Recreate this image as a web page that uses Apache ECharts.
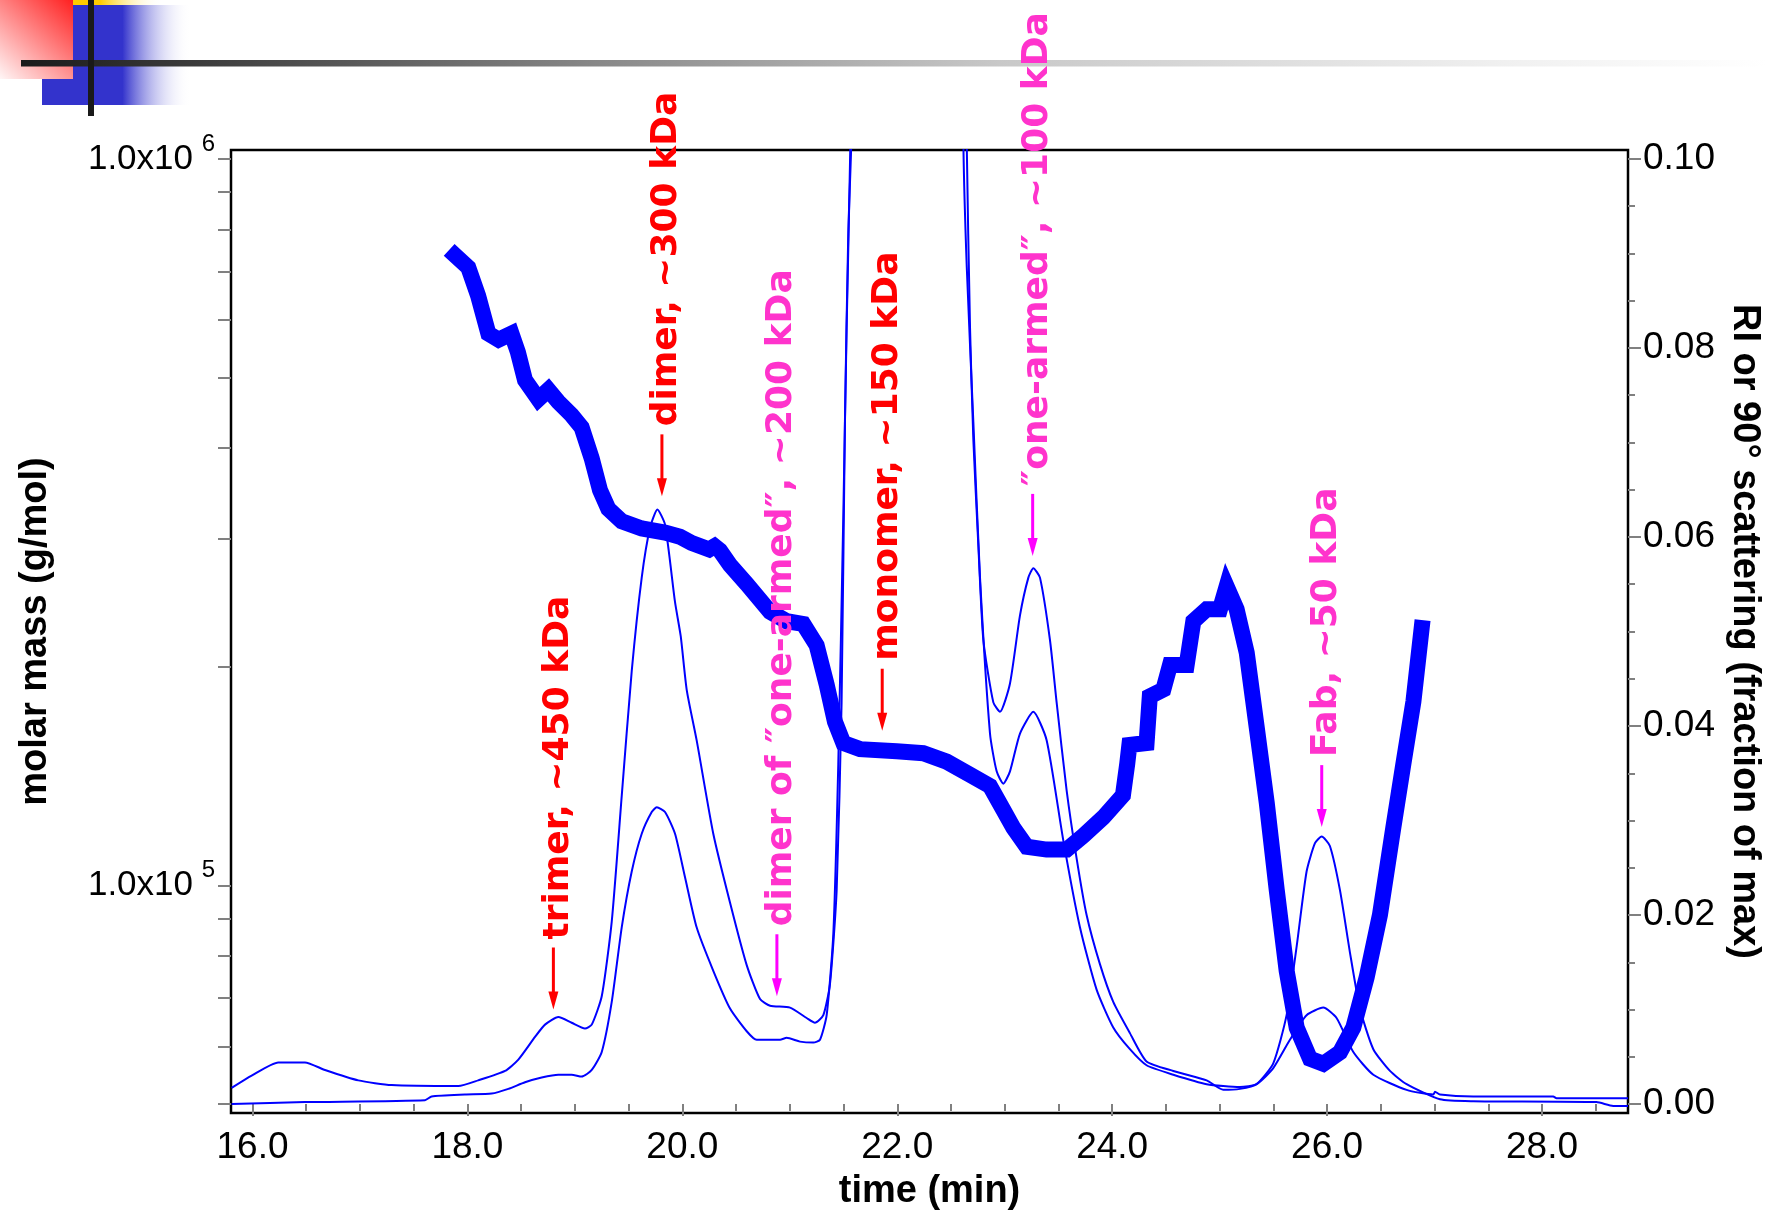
<!DOCTYPE html>
<html><head><meta charset="utf-8">
<script src="https://cdn.jsdelivr.net/npm/echarts@6/dist/echarts.min.js"></script>
<style>html,body{margin:0;padding:0;background:#fff;}#c{width:1767px;height:1215px;}</style>
</head><body><div id="c"></div>
<script>
// ---- molar mass (thick trace, left log axis) ----
const massTime = [17.885,18.008,18.10,18.195,18.29,18.41,18.47,18.536,18.66,18.753,18.846,18.97,19.063,19.157,19.234,19.311,19.436,19.622,19.839,19.978,20.087,20.25,20.30,20.35,20.444,20.599,20.816,20.971,21.126,21.25,21.343,21.42,21.498,21.653,21.995,22.242,22.46,22.677,22.863,22.987,23.08,23.205,23.39,23.577,23.731,23.917,24.10,24.14,24.16,24.32,24.35,24.476,24.538,24.693,24.755,24.88,25.003,25.065,25.158,25.252,25.345,25.438,25.531,25.624,25.717,25.841,25.965,26.12,26.244,26.368,26.492,26.616,26.71,26.803,26.88];
const molarMass = [737000,709000,648000,575000,564000,575000,542000,496000,467000,481000,463000,444000,427000,387000,350000,330000,317000,310000,306000,302000,296000,290000,293000,289000,276000,260000,238000,231000,229000,214000,189000,168000,157000,154000,153000,152000,148000,142000,137000,127000,120000,113000,112000,112000,117000,124000,133000,147000,156000,157000,182000,186000,201000,201000,231000,240000,240000,258000,240000,209000,165000,130000,98600,76200,63700,57700,56800,58900,63700,74700,91100,120000,147000,179000,226000];

// ---- 90 degree light scattering (thin trace, right axis) ----
const lsTime = [15.806,15.992,16.24,16.488,16.675,16.985,17.295,17.915,18.10,18.35,18.474,18.629,18.722,18.846,18.97,19.094,19.157,19.25,19.343,19.436,19.529,19.622,19.70,19.768,19.839,19.932,19.985,20.041,20.133,20.288,20.444,20.599,20.723,20.816,21.002,21.157,21.234,21.312,21.374,21.436,21.482,21.513,21.544,21.575,21.8,22.1,22.45,22.615,22.646,22.708,22.77,22.863,22.925,22.987,23.049,23.142,23.266,23.39,23.545,23.70,23.855,24.01,24.165,24.32,24.569,24.879,25.189,25.344,25.499,25.654,25.809,25.964,26.088,26.244,26.43,26.74,26.988,27.004,27.05,27.36,28.104,28.135,28.8];
const lsSignal = [0.0017,0.0030,0.0044,0.0044,0.0036,0.0025,0.0020,0.0019,0.0025,0.0035,0.0047,0.0071,0.0084,0.0092,0.0086,0.0080,0.0084,0.0114,0.0193,0.0326,0.0458,0.0557,0.0610,0.0629,0.0613,0.0531,0.0495,0.0438,0.0385,0.0286,0.0213,0.0147,0.0111,0.0104,0.0102,0.0091,0.0086,0.0094,0.0127,0.0226,0.0425,0.0722,0.0921,0.1030,0.35,0.45,0.30,0.1020,0.0888,0.0722,0.0557,0.0392,0.0352,0.0339,0.0352,0.0392,0.0415,0.0385,0.0279,0.0187,0.0121,0.0081,0.0058,0.0041,0.0031,0.0021,0.0018,0.0021,0.0038,0.0068,0.0094,0.0102,0.0091,0.0055,0.0031,0.0015,0.0010,0.0013,0.0010,0.0008,0.0008,0.0006,0.0006];

// ---- refractive index (thin trace, right axis) ----
const riTime = [15.806,16.488,17.605,17.667,17.977,18.226,18.381,18.536,18.691,18.846,18.97,19.063,19.157,19.25,19.343,19.436,19.529,19.622,19.715,19.762,19.839,19.932,20.025,20.133,20.288,20.444,20.599,20.692,20.909,20.971,21.095,21.219,21.281,21.343,21.405,21.451,21.498,21.529,21.566,21.8,22.1,22.45,22.646,22.677,22.708,22.755,22.801,22.894,22.956,23.049,23.142,23.22,23.266,23.328,23.421,23.483,23.576,23.669,23.762,23.886,24.01,24.165,24.32,24.569,24.879,25.034,25.189,25.344,25.499,25.623,25.717,25.809,25.887,25.949,26.026,26.12,26.213,26.306,26.43,26.585,26.74,27.05,27.36,28.507,28.662,28.8];
const riSignal = [0.0000,0.0002,0.0004,0.0008,0.0010,0.0011,0.0016,0.0023,0.0028,0.0031,0.0031,0.0029,0.0036,0.0055,0.0108,0.0187,0.0246,0.0286,0.0309,0.0314,0.0309,0.0286,0.0240,0.0187,0.0141,0.0101,0.0077,0.0068,0.0068,0.0070,0.0066,0.0065,0.0068,0.0094,0.0180,0.0359,0.0623,0.0822,0.1030,0.30,0.40,0.28,0.1020,0.0822,0.0703,0.0590,0.0491,0.0425,0.0415,0.0445,0.0517,0.0557,0.0567,0.0557,0.0491,0.0425,0.0332,0.0260,0.0200,0.0148,0.0108,0.0075,0.0045,0.0035,0.0025,0.0015,0.0016,0.0021,0.0043,0.0094,0.0167,0.0246,0.0276,0.0283,0.0273,0.0226,0.0160,0.0101,0.0058,0.0035,0.0021,0.0005,0.0003,0.0002,-0.0002,-0.0002];

// ---- peak annotations ----
const labelTexts = ['trimer, ~450 kDa','dimer, ~300 kDa','dimer of \u2033one-armed\u2033, ~200 kDa','monomer, ~150 kDa','\u2033one-armed\u2033, ~100 kDa','Fab, ~50 kDa'];
const labelTimes = [18.80,19.81,20.88,21.86,23.26,25.95];
const labelTips  = [0.0100,0.0643,0.0114,0.0395,0.0580,0.0293];
const labelKinds = ['intact','intact','fragment','intact','fragment','fragment'];

// ---- axis ticks ----
const xMajorTicks = [16,18,20,22,24,26,28];
const xMinorTicks = [16,16.5,17,17.5,18,18.5,19,19.5,20,20.5,21,21.5,22,22.5,23,23.5,24,24.5,25,25.5,26,26.5,27,27.5,28,28.5];
const massTicks = [50000,60000,70000,80000,90000,100000,200000,300000,400000,500000,600000,700000,800000,900000,1000000];
const massLabels = [100000,1000000];
const signalMajor = [0,0.02,0.04,0.06,0.08,0.10];
const signalMinor = [0,0.005,0.01,0.015,0.02,0.025,0.03,0.035,0.04,0.045,0.05,0.055,0.06,0.065,0.07,0.075,0.08,0.085,0.09,0.095,0.10];

const zip = (a, b) => a.map((v, i) => [v, b[i]]);
const FONT = "'Liberation Sans', Arial, sans-serif";
const TICK = '#808080';
const MASS_MIN = 48590, MASS_MAX = 1028900;

const chart = echarts.init(document.getElementById('c'), null, {renderer: 'canvas'});

function renderLabel(params, api) {
  const i = params.dataIndex;
  const tip = api.coord([api.value(0), api.value(1)]);
  const intact = labelKinds[i] === 'intact';
  const arrowColor = intact ? '#FF0000' : '#FF00FF';
  const textColor = intact ? '#FF0000' : '#FF33CC';
  const shaft = 62, head = 18, half = 5, gap = 8;
  return {
    type: 'group',
    children: [
      {type: 'line', shape: {x1: tip[0], y1: tip[1] - shaft, x2: tip[0], y2: tip[1] - head + 2},
       style: {stroke: arrowColor, lineWidth: 3}},
      {type: 'polygon', shape: {points: [[tip[0], tip[1]], [tip[0] - half, tip[1] - head], [tip[0] + half, tip[1] - head]]},
       style: {fill: arrowColor}},
      {type: 'text', x: tip[0] + 5, y: tip[1] - shaft - gap, rotation: Math.PI / 2,
       style: {text: labelTexts[i], fill: textColor, fontSize: 36, fontWeight: 'bold',
               fontFamily: "'DejaVu Sans', sans-serif", align: 'left', verticalAlign: 'middle'}}
    ]
  };
}

const grayLine = new echarts.graphic.LinearGradient(0, 0, 1, 0, [
  {offset: 0, color: '#1a1a1a'}, {offset: 0.33, color: '#888888'},
  {offset: 0.56, color: '#c8c8c8'}, {offset: 0.85, color: '#f0f0f0'}, {offset: 1, color: '#ffffff'}]);

const option = {
  animation: false,
  backgroundColor: '#ffffff',
  graphic: [
    {type: 'rect', z: 0, shape: {x: 42, y: 5, width: 149, height: 100},
     style: {fill: new echarts.graphic.LinearGradient(0, 0, 1, 0, [
       {offset: 0, color: '#3333CC'}, {offset: 0.54, color: '#3333CC'}, {offset: 1, color: 'rgba(255,255,255,0)'}])}},
    {type: 'rect', z: 0, shape: {x: 73, y: 0, width: 90, height: 5},
     style: {fill: new echarts.graphic.LinearGradient(0, 0, 1, 0, [
       {offset: 0, color: '#FFCC00'}, {offset: 0.3, color: '#FFCC00'}, {offset: 1, color: 'rgba(255,255,255,0)'}])}},
    {type: 'rect', z: 0, shape: {x: 0, y: 0, width: 73, height: 79},
     style: {fill: new echarts.graphic.LinearGradient(1, 0, 0, 1, [
       {offset: 0, color: '#FF2020'}, {offset: 1, color: '#FFF6F6'}])}},
    {type: 'rect', z: 0, shape: {x: 21, y: 60, width: 1746, height: 6.5}, style: {fill: grayLine}},
    {type: 'rect', z: 0, shape: {x: 88, y: 0, width: 6, height: 116}, style: {fill: '#1a1a1a'}}
  ],
  grid: {left: 231, right: 139, top: 150, bottom: 102, containLabel: false, outerBoundsMode: 'none',
         show: true, borderColor: '#000000', borderWidth: 2.5, backgroundColor: 'transparent'},
  xAxis: [
    {type: 'value', min: 15.8, max: 28.8, position: 'bottom',
     name: 'time (min)', nameLocation: 'middle', nameGap: 60,
     nameTextStyle: {fontFamily: FONT, fontWeight: 'bold', fontSize: 38, color: '#000'},
     axisLine: {show: false}, splitLine: {show: false},
     axisTick: {show: true, customValues: xMajorTicks, length: 12, lineStyle: {color: TICK, width: 2}},
     axisLabel: {customValues: xMajorTicks, formatter: v => v.toFixed(1), margin: 16,
                 fontFamily: FONT, fontSize: 37, color: '#000'}},
    {type: 'value', min: 15.8, max: 28.8, position: 'bottom',
     axisLine: {show: false}, splitLine: {show: false}, axisLabel: {show: false},
     axisTick: {show: true, customValues: xMinorTicks, length: 7, lineStyle: {color: TICK, width: 2}}}
  ],
  yAxis: [
    {type: 'log', logBase: 10, min: MASS_MIN, max: MASS_MAX, position: 'left',
     name: 'molar mass (g/mol)', nameLocation: 'middle', nameGap: 176,
     nameTextStyle: {fontFamily: FONT, fontWeight: 'bold', fontSize: 38, color: '#000'},
     axisLine: {show: false}, splitLine: {show: false}, minorTick: {show: false},
     axisTick: {show: true, customValues: massTicks, length: 13, lineStyle: {color: TICK, width: 2}},
     axisLabel: {customValues: massLabels, margin: 38, fontFamily: FONT, fontSize: 35, color: '#000',
                 padding: [5, 0, 0, 0], formatter: () => '1.0x10'}},
    {type: 'value', min: -0.000952, max: 0.100952, position: 'right',
     name: 'RI or 90\u00b0 scattering (fraction of max)', nameLocation: 'middle', nameGap: 92, nameRotate: -90,
     nameTextStyle: {fontFamily: FONT, fontWeight: 'bold', fontSize: 38, color: '#000'},
     axisLine: {show: false}, splitLine: {show: false},
     axisTick: {show: true, customValues: signalMajor, length: 13, lineStyle: {color: TICK, width: 2}},
     axisLabel: {customValues: signalMajor, formatter: v => v.toFixed(2), margin: 15,
                 fontFamily: FONT, fontSize: 37, color: '#000'}},
    {type: 'value', min: -0.000952, max: 0.100952, position: 'right',
     axisLine: {show: false}, splitLine: {show: false}, axisLabel: {show: false},
     axisTick: {show: true, customValues: signalMinor, length: 7, lineStyle: {color: TICK, width: 2}}},
    // superscript exponents of the left axis labels
    {type: 'log', logBase: 10, min: MASS_MIN, max: MASS_MAX, position: 'left',
     axisLine: {show: false}, splitLine: {show: false}, axisTick: {show: false}, minorTick: {show: false},
     axisLabel: {customValues: massLabels, margin: 16, fontFamily: FONT, fontSize: 24, color: '#000',
                 verticalAlign: 'bottom', lineHeight: 30,
                 formatter: v => String(Math.round(Math.log10(v)))}}
  ],
  series: [
    {name: 'RI', type: 'line', xAxisIndex: 0, yAxisIndex: 1, data: zip(riTime, riSignal),
     symbol: 'none', clip: true, smooth: 0.2, lineStyle: {color: '#0000FF', width: 2}},
    {name: '90° LS', type: 'line', xAxisIndex: 0, yAxisIndex: 1, data: zip(lsTime, lsSignal),
     symbol: 'none', clip: true, smooth: 0.2, lineStyle: {color: '#0000FF', width: 2}},
    {name: 'molar mass', type: 'line', xAxisIndex: 0, yAxisIndex: 0, data: zip(massTime, molarMass),
     symbol: 'none', clip: true, lineStyle: {color: '#0000FF', width: 16, join: 'miter', cap: 'square'}},
    {name: 'annotations', type: 'custom', xAxisIndex: 0, yAxisIndex: 1, clip: false, z: 5,
     data: zip(labelTimes, labelTips), renderItem: renderLabel}
  ]
};
chart.setOption(option);
</script></body></html>
